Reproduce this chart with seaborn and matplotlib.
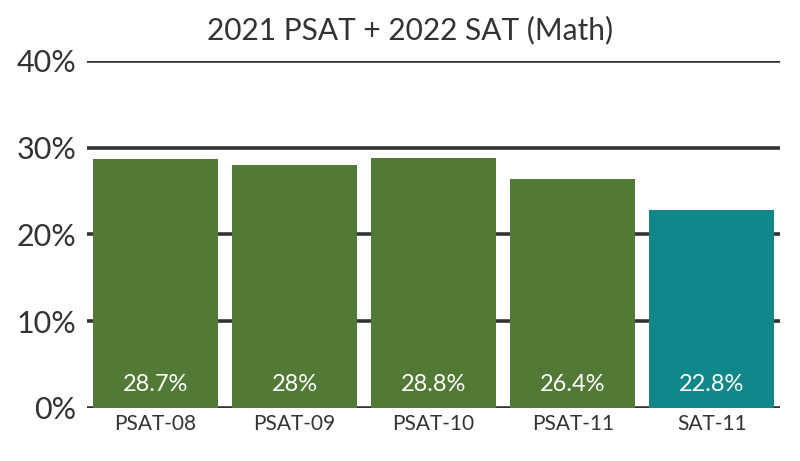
import pandas as pd
import matplotlib.pyplot as plt
import seaborn as sns
from matplotlib.ticker import PercentFormatter

# Chart data
tests = ["PSAT-08", "PSAT-09", "PSAT-10", "PSAT-11", "SAT-11"]
values = [28.7, 28.0, 28.8, 26.4, 22.8]
kinds = ["PSAT", "PSAT", "PSAT", "PSAT", "SAT"]
labels = ["28.7%", "28%", "28.8%", "26.4%", "22.8%"]

data = pd.DataFrame({"test": tests, "value": values, "kind": kinds})

sns.set_style("white")
plt.rcParams["font.family"] = ["Lato", "DejaVu Sans"]

fig = plt.figure(figsize=(8, 4.61), dpi=100)
ax = fig.add_axes([0.109, 0.115, 0.866, 0.753])

sns.barplot(data=data, x="test", y="value", hue="kind",
            palette={"PSAT": "#527a36", "SAT": "#11878a"}, saturation=1,
            width=0.9, dodge=False, legend=False, ax=ax, zorder=3,
            linewidth=0)

# bar value labels in white near the base
for i, lab in enumerate(labels):
    ax.text(i, 2.0, lab, ha="center", va="baseline", color="white",
            fontsize=17, zorder=4)

ax.set_ylim(0, 40)
ax.set_xlim(-0.49, 4.49)
ax.set_yticks([0, 10, 20, 30, 40])
ax.yaxis.set_major_formatter(PercentFormatter(decimals=0))
ax.grid(axis="y", color="#333333", linewidth=2.6, zorder=0)
ax.set_axisbelow(True)
for s in ax.spines.values():
    s.set_visible(False)
ax.tick_params(axis="y", length=0, pad=8, labelsize=22, labelcolor="#333333")
ax.tick_params(axis="x", length=0, pad=4, labelsize=15, labelcolor="#333333")
ax.set_xlabel("")
ax.set_ylabel("")

# title is centred a bit left of the plot area
fig.text(0.512, 0.915, "2021 PSAT + 2022 SAT (Math)", ha="center", va="baseline",
         fontsize=21.5, color="#333333")

fig.savefig("out.png", dpi=100)
